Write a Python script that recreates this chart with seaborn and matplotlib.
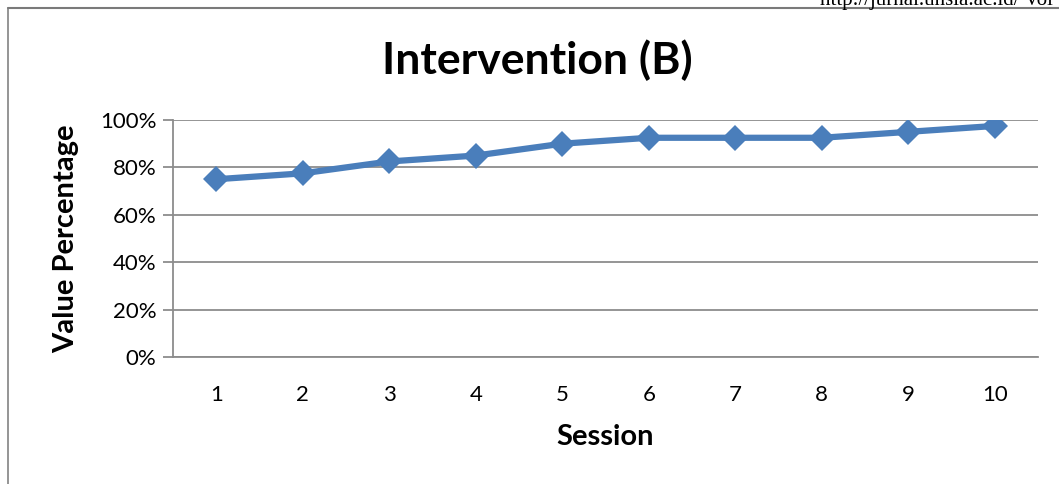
import matplotlib
matplotlib.use("Agg")
import matplotlib.pyplot as plt
import seaborn as sns
import pandas as pd

sessions = ["1", "2", "3", "4", "5", "6", "7", "8", "9", "10"]
values = [75, 77.5, 82.5, 85, 90, 92.5, 92.5, 92.5, 95, 97.5]
y_ticks = [0, 20, 40, 60, 80, 100]
y_labels = ["0%", "20%", "40%", "60%", "80%", "100%"]

sns.set_theme(style="white")
plt.rcParams["font.family"] = ["Lato", "DejaVu Sans"]
plt.rcParams["text.color"] = "black"
plt.rcParams["axes.labelcolor"] = "black"
plt.rcParams["xtick.color"] = "black"
plt.rcParams["ytick.color"] = "black"

df = pd.DataFrame({"Session": sessions, "Value": values})

fig = plt.figure(figsize=(10.59, 4.84), dpi=100)
ax = fig.add_axes([173 / 1059, 1 - 357 / 484, 865 / 1059, 237 / 484])

sns.lineplot(data=df, x="Session", y="Value", ax=ax, color="#4a7ebb",
             linewidth=4.5, marker="D", markersize=13, markeredgewidth=0,
             sort=False)

ax.set_xlim(-0.5, 9.5)
ax.set_ylim(0, 100)
ax.set_yticks(y_ticks)
ax.set_yticklabels(y_labels)
ax.yaxis.grid(True, color="#8c8c8c", linewidth=1.3)
ax.set_axisbelow(True)
for side in ["top", "right"]:
    ax.spines[side].set_visible(False)
for side in ["left", "bottom"]:
    ax.spines[side].set_color("#8c8c8c")
    ax.spines[side].set_linewidth(1.3)
ax.tick_params(axis="y", length=7, width=1.3, color="#8c8c8c", direction="out",
               labelsize=16, pad=5, left=True)
ax.tick_params(axis="x", length=0, labelsize=16, pad=20)

ax.set_xlabel("Session", fontsize=21, fontweight="bold", labelpad=14)
ax.set_ylabel("Value Percentage", fontsize=21, fontweight="bold", labelpad=15)
fig.text(537 / 1059, 1 - 60 / 484, "Intervention (B)", fontsize=32,
         fontweight="bold", ha="center", va="center")

# page frame and clipped header from the source document
fig.add_artist(plt.Line2D([8 / 1059, 8 / 1059], [0, 1 - 8 / 484],
                          transform=fig.transFigure, color="#8c8c8c", linewidth=1.3))
fig.add_artist(plt.Line2D([8 / 1059, 1], [1 - 8 / 484, 1 - 8 / 484],
                          transform=fig.transFigure, color="#7a7a7a", linewidth=1.5))
fig.text(820 / 1059, 1 - 1 / 484, "http://jurnal.unsia.ac.id/ Vol", fontsize=15,
         family=["Liberation Serif", "DejaVu Serif"], va="center", ha="left")

fig.savefig("out.png", dpi=100)
